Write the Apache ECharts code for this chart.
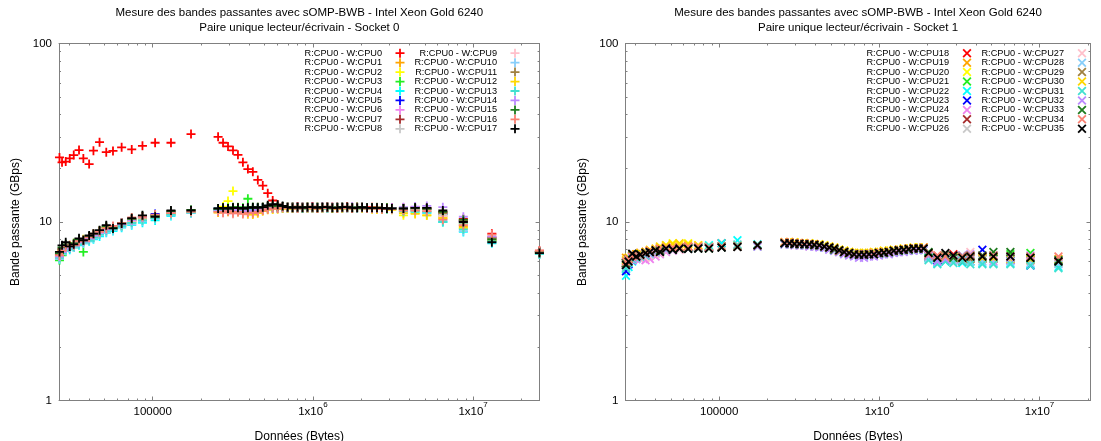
<!DOCTYPE html>
<html>
<head>
<meta charset="utf-8">
<script src="https://cdn.jsdelivr.net/npm/echarts@6/dist/echarts.min.js"></script>
<style>
  html, body { margin: 0; padding: 0; background: #ffffff; }
  #chart { width: 1101px; height: 441px; }
</style>
</head>
<body>
<div id="chart"></div>
<script>
// Transfer sizes (bytes) measured on each socket
const sizesSocket0 = [
  26180, 27160, 28640, 30340, 32140, 34670, 36900, 40090, 42660, 46560,
  51290, 56490, 63970, 73960, 86300, 103500, 130000, 173400,
  255900, 274800, 295100, 317000, 340400, 365600, 392600, 421700, 452900, 486400,
  522400, 561000, 602600, 647100, 695000, 746400, 801700, 861000, 924700, 993100,
  1066600, 1145500, 1230300, 1321300, 1419100, 1524100, 1636800, 1757900, 1888000, 2027700,
  2177700, 2338800, 2511900, 2697700, 2897300, 3111700,
  3672800, 4345100, 5140400, 6471400, 8689600, 13091800, 25941800
];
const sizesSocket1 = [
  26180, 27160, 28640, 30340, 32140, 34670, 36900, 40090, 42660, 46560,
  51290, 56490, 63970, 73960, 86300, 103500, 130000, 173400,
  255900, 274800, 295100, 317000, 340400, 365600, 392600, 421700, 452900, 486400,
  522400, 561000, 602600, 647100, 695000, 746400, 801700, 861000, 924700, 993100,
  1066600, 1145500, 1230300, 1321300, 1419100, 1524100, 1636800, 1757900, 1888000, 2027700,
  2301400, 2582300, 2897300, 3296100, 3698300, 4395400, 5152300, 6576600, 8769900, 13122000
];

// Bandwidth (GBps), reader on CPU0, writer on CPU n — socket 0
const bw0 = [
  23.0, 21.6, 21.8, 22.7, 23.7, 25.3, 22.7, 21.1, 25.1, 28.0, 24.6, 25.0, 26.2, 25.5, 26.7, 27.8, 27.8, 31.1,
  30.0, 27.8, 26.5, 25.2, 23.8, 21.6, 19.8, 19.1, 17.2, 16.0,
  14.5, 13.2, 12.5, 12.2, 12.1, 12.1, 12.2, 12.1, 12.1, 12.2,
  12.1, 12.1, 12.2, 12.1, 12.1, 12.1, 12.2, 12.1, 12.1, 12.1,
  12.0, 12.1, 12.0, 12.0, 12.0, 12.0,
  12.0, 12.1, 12.0, 11.4, 10.4, 8.6, 6.9
];
const bw1 = [
  6.3, 6.8, 7.0, 7.2, 7.4, 7.6, 7.8, 8.1, 8.3, 8.7, 9.1, 9.2, 9.6, 10.1, 10.4, 10.6, 11.1, 11.4,
  11.6, 11.7, 11.5, 11.8, 11.6, 11.4, 11.7, 11.8, 11.6, 11.9,
  12.0, 12.1, 12.0, 12.0, 12.1, 12.0, 12.0, 12.1, 12.0, 12.0,
  12.1, 12.0, 12.0, 12.0, 12.1, 12.0, 12.0, 12.0, 12.0, 12.0,
  11.9, 12.0, 11.9, 11.9, 11.9, 11.8,
  11.6, 11.7, 11.5, 10.7, 9.5, 7.9, 6.7
];
const bw2 = [
  6.6, 7.0, 7.3, 7.4, 7.6, 7.9, 8.0, 8.3, 8.4, 8.9, 9.3, 9.4, 9.7, 10.3, 10.6, 10.8, 11.3, 11.6,
  11.5, 12.2, 13.1, 14.9, 11.6, 11.3, 11.5, 11.2, 11.4, 11.7,
  11.9, 11.8, 11.9, 12.0, 12.0, 11.9, 12.0, 12.0, 12.0, 11.9,
  12.0, 12.0, 12.0, 11.9, 12.0, 12.0, 11.9, 12.0, 12.0, 11.9,
  11.9, 11.9, 11.8, 11.9, 11.8, 11.8,
  10.9, 11.2, 10.9, 10.4, 9.2, 7.8, 6.7
];
const bw3 = [
  6.1, 6.5, 6.9, 7.1, 7.2, 7.5, 6.8, 8.0, 8.2, 8.6, 9.0, 9.1, 9.5, 9.9, 10.3, 10.5, 11.0, 11.4,
  11.8, 11.9, 12.0, 11.8, 12.1, 12.0, 13.5, 12.1, 11.9, 12.0,
  12.1, 12.0, 12.1, 12.0, 12.1, 12.1, 12.0, 12.0, 12.1, 12.0,
  12.1, 12.0, 12.1, 12.0, 12.0, 12.1, 12.0, 12.0, 12.1, 12.0,
  12.0, 12.0, 12.0, 11.9, 12.0, 11.9,
  11.8, 11.9, 11.8, 11.0, 9.8, 8.0, 6.8
];
const bw4 = [
  6.2, 6.6, 6.9, 7.0, 7.2, 7.4, 7.6, 7.8, 8.0, 8.3, 8.7, 8.9, 9.3, 9.6, 9.9, 10.2, 10.8, 11.2,
  11.7, 11.8, 11.9, 11.7, 11.8, 11.9, 11.8, 11.9, 12.0, 11.9,
  12.0, 11.9, 12.0, 12.0, 12.0, 11.9, 12.0, 12.0, 11.9, 12.0,
  12.0, 11.9, 12.0, 12.0, 12.0, 11.9, 12.0, 11.9, 12.0, 12.0,
  11.9, 11.9, 11.9, 11.8, 11.9, 11.8,
  11.5, 11.4, 11.2, 10.0, 8.8, 7.6, 6.6
];
const bw5 = [
  6.5, 7.0, 7.3, 7.2, 7.5, 7.8, 7.9, 8.2, 8.5, 8.8, 9.3, 9.4, 9.9, 10.3, 10.7, 11.1, 11.3, 11.5,
  11.9, 11.8, 11.7, 11.6, 11.9, 11.5, 11.7, 11.6, 11.9, 12.0,
  12.1, 12.0, 12.0, 12.1, 12.0, 12.1, 12.0, 12.1, 12.0, 12.0,
  12.0, 12.1, 12.0, 12.0, 12.1, 12.0, 12.0, 12.1, 12.0, 12.0,
  12.0, 11.9, 12.0, 11.9, 11.9, 11.9,
  11.8, 11.9, 11.8, 11.1, 10.1, 8.1, 6.8
];
const bw6 = [
  6.4, 6.8, 7.1, 7.3, 7.3, 7.7, 7.8, 8.0, 8.4, 8.7, 9.0, 9.3, 9.7, 10.1, 10.5, 10.8, 11.4, 11.5,
  11.6, 11.5, 11.7, 11.4, 11.6, 11.5, 11.3, 11.6, 11.7, 11.8,
  12.0, 12.0, 11.9, 12.0, 12.1, 12.0, 12.1, 12.0, 12.0, 12.1,
  12.0, 12.0, 12.1, 12.0, 12.0, 12.0, 12.1, 12.0, 12.0, 12.0,
  11.9, 12.0, 12.0, 11.9, 11.9, 11.9,
  11.9, 12.0, 11.9, 11.2, 10.2, 8.2, 6.8
];
const bw7 = [
  6.6, 7.1, 7.4, 7.2, 7.5, 7.9, 7.8, 8.3, 8.5, 8.9, 9.4, 9.3, 9.7, 10.4, 10.7, 10.9, 11.5, 11.6,
  11.8, 11.9, 11.7, 11.9, 12.0, 11.8, 11.9, 11.7, 12.0, 12.0,
  12.2, 12.1, 12.1, 12.1, 12.0, 12.1, 12.1, 12.0, 12.1, 12.1,
  12.0, 12.1, 12.0, 12.1, 12.1, 12.0, 12.1, 12.0, 12.1, 12.0,
  12.0, 12.0, 12.0, 12.0, 11.9, 12.0,
  11.9, 12.0, 11.9, 11.3, 10.2, 8.2, 6.8
];
const bw8 = [
  6.4, 6.9, 7.2, 7.3, 7.4, 7.7, 7.9, 8.1, 8.4, 8.8, 9.2, 9.3, 9.7, 10.2, 10.6, 10.8, 11.3, 11.5,
  11.7, 11.8, 11.8, 11.7, 11.9, 11.7, 11.8, 11.9, 11.8, 12.0,
  12.1, 12.0, 12.0, 12.0, 12.1, 12.0, 12.0, 12.0, 12.1, 12.0,
  12.0, 12.0, 12.1, 12.0, 12.0, 12.0, 12.0, 12.0, 12.0, 12.1,
  12.0, 11.9, 12.0, 11.9, 11.9, 11.9,
  11.7, 11.8, 11.7, 11.0, 9.9, 8.0, 6.7
];
const bw9 = [
  6.3, 6.7, 7.0, 7.2, 7.3, 7.6, 7.7, 7.9, 8.3, 8.6, 8.9, 9.2, 9.6, 10.0, 10.4, 10.6, 11.1, 11.3,
  11.3, 11.2, 11.4, 11.1, 11.3, 11.2, 11.0, 11.3, 11.4, 11.6,
  11.8, 11.9, 11.9, 12.0, 12.0, 11.9, 12.0, 12.0, 12.0, 11.9,
  12.0, 12.0, 12.0, 12.0, 11.9, 12.0, 12.0, 12.0, 11.9, 12.0,
  12.0, 11.9, 11.9, 11.9, 11.9, 11.8,
  11.6, 11.7, 11.6, 10.8, 9.6, 8.1, 6.7
];
const bw10 = [
  6.2, 6.6, 6.9, 7.1, 7.2, 7.5, 7.6, 7.9, 8.1, 8.5, 8.8, 9.0, 9.4, 9.7, 10.1, 10.4, 10.9, 11.2,
  11.6, 11.7, 11.6, 11.8, 11.7, 11.6, 11.8, 11.7, 11.9, 11.9,
  12.0, 12.0, 11.9, 12.0, 12.0, 12.0, 11.9, 12.0, 12.0, 12.0,
  12.0, 11.9, 12.0, 12.0, 12.0, 12.0, 11.9, 12.0, 12.0, 11.9,
  11.9, 11.9, 11.9, 11.8, 11.8, 11.8,
  11.4, 11.5, 11.3, 10.2, 8.9, 7.7, 6.6
];
const bw11 = [
  6.5, 7.0, 7.3, 7.3, 7.5, 7.8, 7.9, 8.2, 8.5, 8.8, 9.3, 9.3, 9.8, 10.3, 10.7, 10.8, 11.4, 11.6,
  11.8, 11.9, 11.8, 12.0, 11.9, 11.8, 12.0, 11.9, 12.1, 12.1,
  12.2, 12.2, 12.1, 12.1, 12.1, 12.1, 12.0, 12.1, 12.1, 12.1,
  12.1, 12.0, 12.1, 12.1, 12.0, 12.1, 12.1, 12.0, 12.1, 12.1,
  12.0, 12.0, 12.1, 12.0, 12.0, 11.9,
  11.9, 11.9, 11.8, 11.2, 10.1, 8.1, 6.8
];
const bw12 = [
  6.4, 6.9, 7.2, 7.3, 7.4, 7.7, 7.9, 8.1, 8.4, 8.8, 9.2, 9.3, 9.6, 10.2, 10.5, 10.7, 11.2, 11.4,
  11.3, 11.5, 11.4, 11.6, 11.4, 11.3, 11.1, 11.0, 11.2, 11.5,
  11.7, 11.8, 11.8, 11.9, 11.9, 11.9, 12.0, 11.9, 11.9, 12.0,
  11.9, 11.9, 12.0, 11.9, 11.9, 11.9, 12.0, 11.9, 11.9, 11.9,
  11.9, 11.8, 11.8, 11.8, 11.8, 11.7,
  11.2, 11.1, 10.9, 10.5, 9.3, 7.9, 6.7
];
const bw13 = [
  6.3, 6.7, 7.0, 7.1, 7.3, 7.5, 7.7, 7.9, 8.2, 8.5, 8.9, 9.1, 9.5, 9.9, 10.2, 10.5, 11.0, 11.3,
  11.7, 11.8, 11.7, 11.9, 11.8, 11.7, 11.9, 11.8, 12.0, 11.9,
  12.0, 12.0, 12.0, 12.0, 12.0, 12.0, 12.0, 11.9, 12.0, 12.0,
  12.0, 12.0, 11.9, 12.0, 12.0, 12.0, 12.0, 12.0, 11.9, 12.0,
  11.9, 11.9, 11.9, 11.9, 11.8, 11.8,
  11.5, 11.6, 11.4, 10.0, 9.1, 7.8, 6.6
];
const bw14 = [
  6.4, 6.8, 7.1, 7.2, 7.4, 7.7, 7.8, 8.1, 8.4, 8.7, 9.1, 9.3, 9.7, 10.2, 10.6, 10.9, 11.4, 11.6,
  11.5, 11.4, 11.6, 11.5, 11.7, 11.4, 11.6, 11.5, 11.7, 11.8,
  12.0, 12.1, 12.0, 12.1, 12.1, 12.0, 12.1, 12.1, 12.0, 12.1,
  12.1, 12.0, 12.1, 12.1, 12.0, 12.1, 12.0, 12.1, 12.0, 12.1,
  12.0, 12.0, 12.0, 12.0, 11.9, 12.0,
  12.1, 12.2, 12.3, 12.1, 10.7, 8.3, 6.8
];
const bw15 = [
  6.7, 7.2, 7.5, 7.3, 7.6, 8.0, 7.9, 8.3, 8.6, 8.9, 9.5, 9.3, 9.9, 10.4, 10.8, 10.9, 11.5, 11.7,
  11.9, 12.0, 11.9, 12.1, 12.0, 11.9, 12.1, 12.0, 12.1, 12.1,
  12.3, 12.3, 12.2, 12.2, 12.1, 12.1, 12.1, 12.1, 12.1, 12.0,
  12.1, 12.1, 12.1, 12.0, 12.1, 12.1, 12.1, 12.0, 12.1, 12.1,
  12.0, 12.0, 12.0, 12.0, 12.0, 11.9,
  11.9, 12.0, 11.9, 11.4, 10.3, 8.0, 6.8
];
const bw16 = [
  6.5, 6.9, 7.3, 7.4, 7.4, 7.8, 7.9, 8.2, 8.6, 8.8, 9.2, 9.5, 9.9, 10.6, 10.7, 11.0, 11.2, 11.4,
  11.4, 11.3, 11.5, 11.2, 11.4, 11.1, 11.3, 11.2, 11.4, 11.6,
  11.8, 11.9, 11.9, 12.0, 12.0, 12.0, 11.9, 12.0, 12.0, 12.0,
  11.9, 12.0, 12.0, 12.0, 11.9, 12.0, 12.0, 11.9, 12.0, 12.0,
  11.9, 11.9, 11.9, 11.8, 11.9, 11.8,
  11.6, 11.6, 11.5, 10.3, 9.6, 8.5, 6.9
];
const bw17 = [
  6.8, 7.4, 7.7, 7.3, 7.5, 8.1, 7.9, 8.4, 8.6, 9.0, 9.6, 9.2, 9.8, 10.5, 10.9, 10.7, 11.6, 11.6,
  11.9, 12.0, 11.9, 12.0, 12.0, 11.9, 12.0, 12.1, 12.0, 12.1,
  12.4, 12.6, 12.5, 12.3, 12.1, 12.0, 12.1, 12.0, 12.1, 12.1,
  12.0, 12.1, 12.1, 12.0, 12.0, 12.1, 12.1, 12.0, 12.0, 12.1,
  12.0, 12.0, 12.0, 12.0, 11.9, 11.9,
  11.9, 12.0, 12.0, 11.6, 10.0, 7.7, 6.7
];

// Bandwidth (GBps), reader on CPU0, writer on CPU n — socket 1
const bw18 = [
  5.9, 6.2, 6.5, 6.6, 6.7, 6.8, 6.9, 7.0, 7.1, 7.2, 7.1, 7.2, 7.3, 7.2, 7.3, 7.6, 7.3, 7.4,
  7.6, 7.7, 7.6, 7.6, 7.5, 7.5, 7.5, 7.4, 7.3, 7.2,
  7.0, 6.9, 6.8, 6.7, 6.6, 6.6, 6.6, 6.6, 6.7, 6.7,
  6.8, 6.8, 6.9, 7.0, 7.0, 7.1, 7.1, 7.1, 7.2, 6.5,
  6.5, 6.4, 6.6, 6.2, 6.5, 6.3, 6.5, 6.3, 6.2, 6.1
];
const bw19 = [
  6.3, 6.3, 6.5, 6.5, 6.7, 6.8, 6.9, 7.0, 7.1, 7.2, 7.2, 7.3, 7.3, 7.2, 7.3, 7.3, 7.3, 7.4,
  7.7, 7.7, 7.6, 7.6, 7.6, 7.5, 7.5, 7.4, 7.3, 7.2,
  7.1, 7.0, 6.9, 6.8, 6.7, 6.7, 6.7, 6.7, 6.7, 6.8,
  6.8, 6.9, 6.9, 7.0, 7.0, 7.1, 7.1, 7.2, 7.2, 6.6,
  6.2, 6.5, 6.3, 6.4, 6.2, 6.5, 6.2, 6.3, 6.1, 6.2
];
const bw20 = [
  5.9, 6.1, 6.3, 6.4, 6.5, 6.6, 6.8, 7.0, 7.2, 7.4, 7.6, 7.5, 7.6, 7.4, 7.3, 7.3, 7.3, 7.4,
  7.7, 7.7, 7.7, 7.6, 7.6, 7.6, 7.5, 7.5, 7.4, 7.3,
  7.2, 7.0, 6.9, 6.8, 6.7, 6.7, 6.7, 6.7, 6.8, 6.8,
  6.9, 6.9, 7.0, 7.0, 7.1, 7.1, 7.2, 7.2, 7.2, 6.4,
  6.3, 6.4, 6.2, 6.4, 6.3, 6.2, 6.4, 6.2, 6.3, 6.0
];
const bw21 = [
  5.7, 6.0, 6.3, 6.3, 6.5, 6.6, 6.7, 6.8, 6.9, 7.0, 7.1, 7.1, 7.2, 7.1, 7.2, 7.3, 7.3, 7.3,
  7.5, 7.6, 7.5, 7.5, 7.5, 7.4, 7.4, 7.3, 7.2, 7.1,
  7.0, 6.9, 6.8, 6.6, 6.5, 6.5, 6.5, 6.5, 6.6, 6.6,
  6.7, 6.7, 6.8, 6.9, 6.9, 7.0, 7.0, 7.0, 7.0, 6.3,
  6.0, 6.1, 6.4, 6.1, 6.0, 6.3, 6.5, 6.6, 6.7, 6.1
];
const bw22 = [
  5.0, 5.6, 6.0, 6.2, 6.3, 6.5, 6.6, 6.8, 6.9, 7.0, 7.1, 7.2, 7.2, 7.3, 7.4, 7.6, 7.9, 7.5,
  7.6, 7.6, 7.5, 7.5, 7.4, 7.4, 7.4, 7.3, 7.2, 7.1,
  7.0, 6.9, 6.7, 6.6, 6.5, 6.5, 6.5, 6.6, 6.6, 6.6,
  6.7, 6.8, 6.8, 6.9, 7.0, 7.0, 7.0, 7.1, 7.1, 6.3,
  5.9, 6.0, 6.1, 5.9, 6.0, 5.9, 5.9, 5.9, 5.8, 5.6
];
const bw23 = [
  5.3, 5.8, 6.1, 6.3, 6.4, 6.6, 6.7, 6.8, 6.9, 7.0, 7.1, 7.1, 7.2, 7.2, 7.2, 7.3, 7.3, 7.4,
  7.6, 7.6, 7.5, 7.5, 7.5, 7.4, 7.4, 7.3, 7.2, 7.1,
  7.0, 6.9, 6.7, 6.6, 6.5, 6.5, 6.5, 6.5, 6.6, 6.6,
  6.7, 6.7, 6.8, 6.9, 6.9, 7.0, 7.0, 7.0, 7.0, 6.4,
  6.1, 6.3, 6.2, 6.5, 6.3, 7.0, 6.2, 6.1, 5.7, 6.0
];
const bw24 = [
  5.8, 6.0, 6.1, 6.2, 6.2, 6.1, 6.2, 6.4, 6.6, 6.8, 6.9, 7.0, 7.1, 7.1, 7.2, 7.2, 7.3, 7.3,
  7.5, 7.5, 7.5, 7.4, 7.4, 7.4, 7.3, 7.3, 7.2, 7.1,
  7.0, 6.8, 6.7, 6.6, 6.5, 6.5, 6.5, 6.5, 6.6, 6.6,
  6.7, 6.7, 6.8, 6.8, 6.9, 6.9, 7.0, 7.0, 7.0, 6.4,
  6.2, 6.3, 6.1, 6.2, 6.3, 6.2, 6.0, 6.1, 6.2, 5.9
];
const bw25 = [
  5.9, 6.2, 6.4, 6.4, 6.5, 6.6, 6.7, 6.8, 7.0, 7.0, 7.1, 7.1, 7.2, 7.2, 7.2, 7.3, 7.3, 7.4,
  7.6, 7.6, 7.6, 7.5, 7.5, 7.5, 7.4, 7.4, 7.3, 7.2,
  7.0, 6.9, 6.8, 6.7, 6.6, 6.6, 6.6, 6.6, 6.6, 6.7,
  6.7, 6.8, 6.9, 6.9, 7.0, 7.0, 7.1, 7.1, 7.1, 6.5,
  6.4, 6.2, 6.3, 6.0, 6.3, 6.2, 6.3, 6.2, 6.1, 6.0
];
const bw26 = [
  5.8, 6.1, 6.3, 6.4, 6.5, 6.6, 6.7, 6.8, 6.9, 7.0, 7.0, 7.1, 7.1, 7.1, 7.2, 7.2, 7.3, 7.3,
  7.5, 7.5, 7.5, 7.5, 7.4, 7.4, 7.4, 7.3, 7.2, 7.1,
  7.0, 6.9, 6.7, 6.6, 6.6, 6.5, 6.5, 6.6, 6.6, 6.6,
  6.7, 6.8, 6.8, 6.9, 6.9, 7.0, 7.0, 7.0, 7.1, 6.4,
  6.3, 6.3, 6.2, 6.3, 6.2, 6.2, 6.2, 6.2, 6.1, 5.9
];
const bw27 = [
  5.8, 6.0, 6.2, 6.3, 6.4, 6.3, 6.5, 6.6, 6.7, 6.9, 7.0, 7.0, 7.1, 7.1, 7.2, 7.2, 7.3, 7.3,
  7.5, 7.5, 7.4, 7.4, 7.4, 7.3, 7.3, 7.3, 7.2, 7.1,
  7.0, 6.8, 6.7, 6.6, 6.5, 6.5, 6.5, 6.5, 6.6, 6.6,
  6.7, 6.7, 6.8, 6.8, 6.9, 6.9, 7.0, 7.0, 7.0, 6.6,
  6.5, 6.6, 6.4, 6.5, 6.8, 6.4, 6.3, 6.4, 6.3, 6.1
];
const bw28 = [
  5.6, 5.9, 6.2, 6.3, 6.4, 6.5, 6.6, 6.8, 6.9, 7.0, 7.0, 7.1, 7.1, 7.2, 7.2, 7.3, 7.5, 7.3,
  7.5, 7.5, 7.5, 7.4, 7.4, 7.4, 7.3, 7.3, 7.2, 7.1,
  6.9, 6.8, 6.7, 6.6, 6.5, 6.5, 6.5, 6.5, 6.6, 6.6,
  6.6, 6.7, 6.8, 6.8, 6.9, 6.9, 7.0, 7.0, 7.0, 6.2,
  6.0, 6.2, 6.0, 6.1, 6.0, 6.0, 5.9, 6.0, 5.9, 5.8
];
const bw29 = [
  5.9, 6.2, 6.4, 6.5, 6.6, 6.7, 6.8, 6.9, 7.0, 7.1, 7.1, 7.2, 7.2, 7.2, 7.2, 7.3, 7.3, 7.4,
  7.6, 7.6, 7.5, 7.5, 7.5, 7.4, 7.4, 7.4, 7.3, 7.2,
  7.0, 6.9, 6.8, 6.7, 6.6, 6.6, 6.6, 6.6, 6.7, 6.7,
  6.7, 6.8, 6.9, 6.9, 7.0, 7.0, 7.1, 7.1, 7.1, 6.5,
  6.3, 6.3, 6.4, 6.3, 6.2, 6.3, 6.3, 6.4, 6.2, 6.0
];
const bw30 = [
  6.1, 6.3, 6.5, 6.6, 6.7, 6.8, 7.0, 7.1, 7.3, 7.4, 7.5, 7.6, 7.5, 7.4, 7.3, 7.3, 7.4, 7.4,
  7.7, 7.7, 7.7, 7.6, 7.6, 7.6, 7.5, 7.5, 7.4, 7.3,
  7.2, 7.0, 6.9, 6.8, 6.7, 6.7, 6.7, 6.7, 6.8, 6.8,
  6.9, 6.9, 7.0, 7.0, 7.1, 7.1, 7.2, 7.2, 7.2, 6.7,
  6.4, 6.3, 6.4, 6.3, 6.4, 6.3, 6.3, 6.2, 6.2, 6.1
];
const bw31 = [
  5.5, 5.9, 6.2, 6.3, 6.4, 6.5, 6.7, 6.8, 6.9, 7.0, 7.0, 7.1, 7.1, 7.2, 7.3, 7.3, 7.4, 7.4,
  7.6, 7.6, 7.5, 7.5, 7.5, 7.4, 7.4, 7.3, 7.2, 7.1,
  7.0, 6.9, 6.7, 6.6, 6.5, 6.5, 6.5, 6.6, 6.6, 6.6,
  6.7, 6.7, 6.8, 6.9, 6.9, 7.0, 7.0, 7.0, 7.1, 6.1,
  5.8, 6.0, 5.9, 6.0, 5.8, 5.8, 5.8, 5.8, 5.7, 5.5
];
const bw32 = [
  5.9, 6.1, 6.3, 6.4, 6.5, 6.6, 6.7, 6.8, 6.9, 7.0, 7.0, 7.1, 7.1, 7.1, 7.2, 7.2, 7.3, 7.3,
  7.5, 7.5, 7.4, 7.4, 7.4, 7.3, 7.3, 7.2, 7.2, 7.0,
  6.9, 6.8, 6.6, 6.5, 6.4, 6.3, 6.3, 6.4, 6.4, 6.5,
  6.6, 6.6, 6.7, 6.8, 6.8, 6.9, 6.9, 7.0, 7.0, 6.5,
  6.0, 6.2, 6.5, 6.4, 6.6, 6.5, 6.5, 6.3, 6.5, 6.1
];
const bw33 = [
  5.9, 6.2, 6.5, 6.4, 6.6, 6.7, 6.8, 6.9, 6.9, 7.1, 7.0, 7.1, 7.1, 7.1, 7.1, 7.2, 7.3, 7.4,
  7.6, 7.6, 7.5, 7.5, 7.5, 7.5, 7.4, 7.4, 7.3, 7.2,
  7.0, 6.9, 6.8, 6.7, 6.6, 6.6, 6.6, 6.6, 6.6, 6.7,
  6.7, 6.8, 6.9, 6.9, 7.0, 7.0, 7.1, 7.1, 7.1, 6.8,
  6.4, 6.5, 6.3, 6.4, 6.5, 6.5, 6.8, 6.8, 6.3, 6.1
];
const bw34 = [
  6.0, 6.2, 6.4, 6.5, 6.5, 6.7, 6.9, 7.0, 7.1, 7.2, 7.2, 7.2, 7.3, 7.3, 7.2, 7.3, 7.3, 7.4,
  7.7, 7.7, 7.6, 7.6, 7.6, 7.5, 7.5, 7.4, 7.3, 7.2,
  7.1, 6.9, 6.8, 6.7, 6.6, 6.6, 6.6, 6.6, 6.7, 6.7,
  6.8, 6.8, 6.9, 7.0, 7.0, 7.1, 7.1, 7.1, 7.2, 6.6,
  6.5, 6.4, 6.5, 6.4, 6.5, 6.4, 6.5, 6.4, 6.4, 6.4
];
const bw35 = [
  5.75, 6.0, 6.65, 6.4, 6.55, 6.7, 6.8, 6.95, 6.8, 7.1, 7.0, 7.1, 7.05, 7.1, 7.1, 7.2, 7.25, 7.4,
  7.6, 7.6, 7.55, 7.55, 7.5, 7.5, 7.45, 7.4, 7.3, 7.2,
  7.1, 6.95, 6.8, 6.7, 6.6, 6.55, 6.55, 6.6, 6.6, 6.7,
  6.75, 6.8, 6.9, 6.95, 7.0, 7.05, 7.1, 7.1, 7.1, 6.7,
  6.3, 6.7, 6.5, 6.3, 6.4, 6.4, 6.4, 6.4, 6.3, 6.0
];

// One colour per writer CPU within a socket (same sequence on both sockets)
const cpuColors = [
  '#ff0000', '#ffa500', '#ffff00', '#22ee22', '#00ffff', '#0000ff', '#ee82ee', '#a52a2a', '#c8c8c8',
  '#ffc0cb', '#87cefa', '#a08040', '#ffd700', '#40e0d0', '#bb88ff', '#1e7b1e', '#fa8072', '#000000'
];

const xMajorTicks = [1e5, 1e6, 1e7];
const xMinorTicks = [
  3e4, 4e4, 5e4, 6e4, 7e4, 8e4, 9e4,
  2e5, 3e5, 4e5, 5e5, 6e5, 7e5, 8e5, 9e5,
  2e6, 3e6, 4e6, 5e6, 6e6, 7e6, 8e6, 9e6,
  2e7
];
const yMajorTicks = [1, 10, 100];
const yMinorTicks = [2, 3, 4, 5, 6, 7, 8, 9, 20, 30, 40, 50, 60, 70, 80, 90];

const titleLine1 = 'Mesure des bandes passantes avec sOMP-BWB - Intel Xeon Gold 6240';
const titleLine2 = ['Paire unique lecteur/écrivain - Socket 0', 'Paire unique lecteur/écrivain - Socket 1'];
const xTitle = 'Données (Bytes)';
const yTitle = 'Bande passante (GBps)';

const socketSizes = [sizesSocket0, sizesSocket1];
const socketSeries = [
  [bw0, bw1, bw2, bw3, bw4, bw5, bw6, bw7, bw8, bw9, bw10, bw11, bw12, bw13, bw14, bw15, bw16, bw17],
  [bw18, bw19, bw20, bw21, bw22, bw23, bw24, bw25, bw26, bw27, bw28, bw29, bw30, bw31, bw32, bw33, bw34, bw35]
];

// ---- layout / style ----
const FONT = '"Liberation Sans", Arial, Helvetica, sans-serif';
const BORDER = '#808080';
const X_MIN = 26000;
const X_MAX = [2.6e7, 2.08e7];
const GRIDS = [
  { left: 59, top: 43.5, width: 480.6, height: 357 },
  { left: 625.5, top: 43.5, width: 465, height: 357 }
];

const PLUS = 'path://M4,0H6V4H10V6H6V10H4V6H0V4H4Z';
const CROSS = 'path://M0,1.41L1.41,0L5,3.59L8.59,0L10,1.41L6.41,5L10,8.59L8.59,10L5,6.41L1.41,10L0,8.59L3.59,5Z';

const tickStyle = { color: BORDER, width: 1 };

function xLabelFormatter(v) {
  const e = Math.round(Math.log10(v));
  if (e === 5) return '{b|100000}';
  return '{b|1x10}{s|' + e + '}';
}

const xAxes = [];
const yAxes = [];
GRIDS.forEach((g, gi) => {
  const xBase = {
    type: 'log', logBase: 10, gridIndex: gi, min: X_MIN, max: X_MAX[gi],
    splitLine: { show: false }, splitArea: { show: false },
    axisLine: { show: true, onZero: false, lineStyle: { color: BORDER, width: 1 } },
    axisLabel: { show: false }, axisPointer: { show: false }, silent: true
  };
  xAxes.push(Object.assign({}, xBase, {
    position: 'bottom',
    axisTick: { show: true, inside: true, length: 4, customValues: xMajorTicks, lineStyle: tickStyle },
    axisLabel: {
      show: true, customValues: xMajorTicks, margin: 3, formatter: xLabelFormatter,
      color: '#000', fontFamily: FONT, fontSize: 11.5,
      rich: {
        b: { fontFamily: FONT, fontSize: 11.5, color: '#000', lineHeight: 12, padding: [5, 0, 0, 0] },
        s: { fontFamily: FONT, fontSize: 8, color: '#000', lineHeight: 8, padding: [0, 0, 9, 0] }
      }
    },
    name: xTitle, nameLocation: 'middle', nameGap: 30,
    nameTextStyle: { fontFamily: FONT, fontSize: 12, color: '#000' }
  }));
  xAxes.push(Object.assign({}, xBase, {
    position: 'bottom', axisLine: { show: false },
    axisTick: { show: true, inside: true, length: 2, customValues: xMinorTicks, lineStyle: tickStyle }
  }));
  xAxes.push(Object.assign({}, xBase, {
    position: 'top',
    axisTick: { show: true, inside: true, length: 4, customValues: xMajorTicks, lineStyle: tickStyle }
  }));
  xAxes.push(Object.assign({}, xBase, {
    position: 'top', axisLine: { show: false },
    axisTick: { show: true, inside: true, length: 2, customValues: xMinorTicks, lineStyle: tickStyle }
  }));

  const yBase = {
    type: 'log', logBase: 10, gridIndex: gi, min: 1, max: 100,
    splitLine: { show: false }, splitArea: { show: false },
    axisLine: { show: true, onZero: false, lineStyle: { color: BORDER, width: 1 } },
    axisLabel: { show: false }, axisPointer: { show: false }, silent: true
  };
  yAxes.push(Object.assign({}, yBase, {
    position: 'left',
    axisTick: { show: true, inside: true, length: 4, customValues: yMajorTicks, lineStyle: tickStyle },
    axisLabel: {
      show: true, customValues: yMajorTicks, margin: 7,
      formatter: v => String(Math.round(v)),
      color: '#000', fontFamily: FONT, fontSize: 11.5
    },
    name: yTitle, nameLocation: 'middle', nameGap: gi === 0 ? 37 : 36.5,
    nameTextStyle: { fontFamily: FONT, fontSize: 12, color: '#000' }
  }));
  yAxes.push(Object.assign({}, yBase, {
    position: 'left', axisLine: { show: false },
    axisTick: { show: true, inside: true, length: 2, customValues: yMinorTicks, lineStyle: tickStyle }
  }));
  yAxes.push(Object.assign({}, yBase, {
    position: 'right',
    axisTick: { show: true, inside: true, length: 4, customValues: yMajorTicks, lineStyle: tickStyle }
  }));
  yAxes.push(Object.assign({}, yBase, {
    position: 'right', axisLine: { show: false },
    axisTick: { show: true, inside: true, length: 2, customValues: yMinorTicks, lineStyle: tickStyle }
  }));
});

// Scatter series: one per writer CPU, drawn in CPU order so the last one sits on top
const series = [];
const legendNames = [[], [], [], []];
socketSeries.forEach((list, gi) => {
  list.forEach((vals, j) => {
    const cpu = gi * 18 + j;
    const name = 'R:CPU0 - W:CPU' + cpu;
    legendNames[gi * 2 + (j < 9 ? 0 : 1)].push(name);
    series.push({
      type: 'scatter',
      name: name,
      xAxisIndex: gi * 4,
      yAxisIndex: gi * 4,
      symbol: gi === 0 ? PLUS : CROSS,
      symbolSize: 9,
      itemStyle: { color: cpuColors[j], opacity: 1 },
      data: socketSizes[gi].map((s, i) => [s, vals[i]]),
      clip: false,
      silent: true,
      emphasis: { disabled: true },
      animation: false
    });
  });
});

// Legends: two right-aligned columns in the upper right of each panel
const legendRight = [696.5, 581.5, 129.5, 14.5];
const legends = legendNames.map((names, k) => ({
  data: names,
  orient: 'vertical',
  align: 'right',
  right: legendRight[k],
  top: 48.7,
  padding: 0,
  itemWidth: 26,
  itemHeight: 9,
  itemGap: 0.45,
  selectedMode: false,
  textStyle: { fontFamily: FONT, fontSize: 9.2, color: '#000' }
}));

const titles = GRIDS.map((g, gi) => ({
  type: 'text',
  x: g.left + g.width / 2,
  y: 5.5,
  silent: true,
  style: {
    text: titleLine1 + '\n' + titleLine2[gi],
    fill: '#000',
    fontFamily: FONT,
    fontSize: 11.5,
    lineHeight: 15,
    align: 'center',
    verticalAlign: 'top'
  }
}));

const chart = echarts.init(document.getElementById('chart'), null, { renderer: 'canvas' });
chart.setOption({
  backgroundColor: '#ffffff',
  animation: false,
  grid: GRIDS.map(g => Object.assign({ containLabel: false, outerBoundsMode: 'none' }, g)),
  xAxis: xAxes,
  yAxis: yAxes,
  legend: legends,
  graphic: titles,
  series: series
});
</script>
</body>
</html>
